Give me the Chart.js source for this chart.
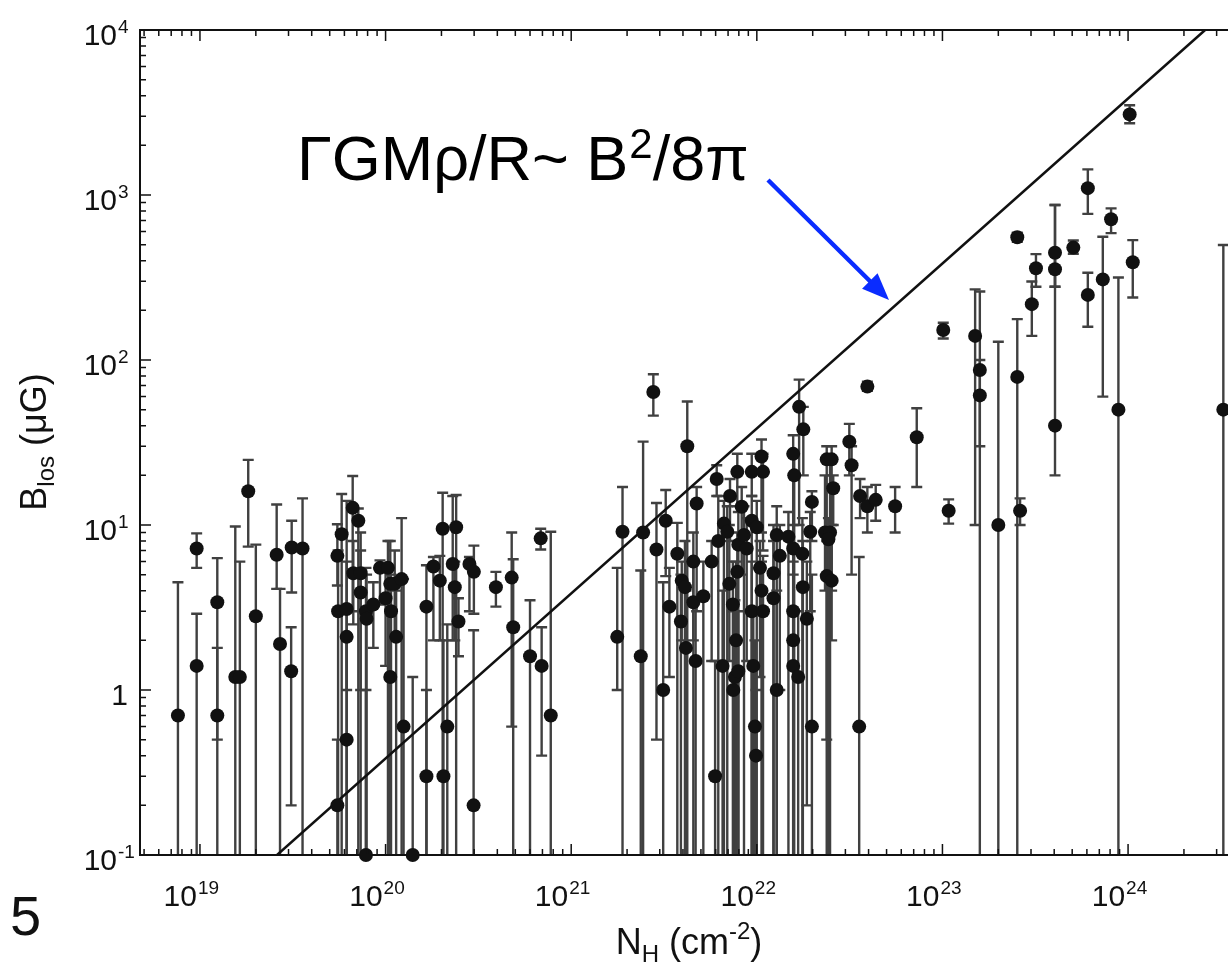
<!DOCTYPE html>
<html>
<head>
<meta charset="utf-8">
<script src="https://cdn.jsdelivr.net/npm/chart.js@4.4.1/dist/chart.umd.min.js"></script>
<style>
  html, body { margin: 0; padding: 0; background: #fff; overflow: hidden; }
  #wrap { width: 1250px; height: 964px; position: relative; }
</style>
</head>
<body>
<div id="wrap"><canvas id="chart"></canvas></div>
<script>
// Column density N_H (cm^-2) for each measurement
const nH = [
  7.61e18, 9.6e18, 9.6e18, 1.24e19, 1.24e19, 1.55e19, 1.64e19, 1.82e19, 2.0e19, 2.59e19,
  2.7e19, 3.12e19, 3.1e19, 3.57e19, 5.5e19, 5.55e19, 5.5e19, 5.8e19, 6.17e19, 6.17e19,
  6.17e19, 6.65e19, 7.13e19, 6.7e19, 7.34e19, 7.34e19, 7.84e19, 7.9e19, 7.84e19, 8.59e19,
  9.33e19, 1.03e20, 1.0e20, 1.06e20, 1.12e20, 1.22e20, 1.07e20, 1.14e20, 1.06e20, 1.25e20,
  1.4e20, 1.66e20, 1.66e20, 1.81e20, 1.96e20, 2.03e20, 2.05e20, 2.15e20, 2.3e20, 2.36e20,
  2.4e20, 2.47e20, 2.83e20, 2.99e20, 2.98e20, 3.93e20, 4.78e20, 4.87e20, 6.0e20, 6.85e20,
  6.93e20, 7.76e20, 1.77e21, 1.89e21, 2.37e21, 2.44e21, 2.77e21, 2.88e21, 3.13e21, 3.23e21,
  3.38e21, 3.73e21, 3.94e21, 4.1e21, 3.9e21, 4.15e21, 4.22e21, 4.55e21, 4.55e21, 4.74e21,
  4.68e21, 5.15e21, 5.71e21, 5.96e21, 6.08e21, 6.2e21, 6.54e21, 6.65e21, 6.93e21, 7.11e21,
  7.17e21, 7.47e21, 7.43e21, 7.62e21, 7.73e21, 7.85e21, 7.85e21, 7.95e21, 7.95e21, 8.29e21,
  8.53e21, 8.82e21, 9.39e21, 9.39e21, 9.39e21, 9.57e21, 9.77e21, 9.9e21, 9.99e21, 1.04e22,
  1.06e22, 1.06e22, 1.08e22, 1.08e22, 1.23e22, 1.23e22, 1.28e22, 1.28e22, 1.33e22, 1.48e22,
  1.57e22, 1.59e22, 1.57e22, 1.57e22, 1.57e22, 1.57e22, 1.67e22, 1.69e22, 1.78e22, 1.76e22,
  1.77e22, 1.86e22, 1.98e22, 1.94e22, 1.98e22, 2.33e22, 2.48e22, 2.38e22, 2.53e22, 2.58e22,
  2.43e22, 2.38e22, 2.53e22, 3.15e22, 3.24e22, 3.56e22, 3.6e22, 3.94e22, 3.94e22, 4.37e22,
  5.56e22, 7.27e22, 1.01e23, 1.08e23, 1.5e23, 1.59e23, 1.59e23, 2.0e23, 2.53e23, 2.53e23,
  2.62e23, 3.03e23, 3.19e23, 4.04e23, 4.04e23, 4.04e23, 5.07e23, 6.07e23, 6.07e23, 7.31e23,
  8.1e23, 8.87e23, 1.02e24, 1.06e24, 3.26e24
];

// Line-of-sight field strength B_los (microgauss)
const bLos = [
  0.7, 7.2, 1.4, 3.4, 0.7, 1.2, 1.2, 16, 2.8, 6.6,
  1.9, 7.3, 1.3, 7.2, 6.5, 3.0, 0.2, 8.8, 3.1, 2.1,
  0.5, 12.7, 10.6, 5.1, 5.1, 3.9, 3.0, 2.7, 0.1, 3.3,
  5.5, 5.5, 3.6, 4.4, 4.4, 4.7, 3.0, 2.1, 1.2, 0.6,
  0.1, 3.2, 0.3, 5.6, 4.6, 9.5, 0.3, 0.6, 5.8, 4.2,
  9.7, 2.6, 5.8, 5.2, 0.2, 4.2, 4.8, 2.4, 1.6, 8.3,
  1.4, 0.7, 2.1, 9.1, 1.6, 9.0, 64, 7.1, 1.0, 10.6,
  3.2, 6.7, 4.6, 4.2, 2.6, 1.8, 30, 6.0, 3.4, 13.5,
  1.5, 3.7, 6.0, 0.3, 19, 8.0, 1.4, 10.2, 9.1, 4.4,
  15, 1.0, 3.3, 1.2, 2.0, 21, 5.2, 1.3, 7.6, 12.9,
  8.7, 7.2, 10.6, 21, 3.0, 1.4, 0.6, 0.4, 9.7, 5.5,
  26, 4.0, 21, 3.0, 5.1, 3.6, 8.7, 1.0, 6.5, 8.5,
  27, 20, 7.2, 3.0, 2.0, 1.4, 1.2, 52, 38, 6.7,
  4.2, 2.7, 13.8, 9.1, 0.6, 9.0, 9.0, 25, 25, 16.7,
  8.2, 4.9, 4.6, 32, 23, 0.6, 15, 69, 13, 14.2,
  13, 34, 152, 12.2, 140, 87, 61, 10, 79, 555,
  12.2, 218, 360, 447, 355, 40, 480, 1100, 248, 308,
  713, 50, 3080, 391, 50
];

// Lower end of each error bar (null: the bar runs off the bottom of the axis)
const bLow = [
  null, 5.5, null, null, 0.5, null, null, 7.4, null, 4.1,
  null, 3.9, 0.2, null, 4.3, null, null, null, 1.0, null,
  null, 3.0, null, 2.5, null, 1.0, null, null, null, 1.8,
  3.3, null, 1.4, null, 2.0, null, null, null, null, null,
  null, null, null, 2.0, 2.0, null, null, null, 2.0, 2.0,
  null, 1.6, 3.0, 2.9, null, 3.2, 0.6, null, null, 7.1,
  0.4, null, 1.0, null, null, null, 46, 0.5, null, 4.9,
  1.2, null, 2.0, null, null, null, null, 2.0, null, 3.0,
  null, null, 1.5, null, 15, null, null, null, null, 1.5,
  8, null, null, null, null, 13, 2.0, null, null, 5.0,
  null, 1.5, null, 15, null, null, null, null, null, 1.2,
  9, null, 7, null, null, null, null, null, 1.0, null,
  null, null, null, null, null, null, null, 10, 20, null,
  null, 0.2, 8, 3, null, 4, null, null, 4, 10,
  null, 0.5, 2, 20, 5, null, 11, 65, 9, 10.6,
  9, 17, 135, 10.2, 10, null, 30, null, null, 520,
  10, 140, 278, 278, 278, 20, 440, 768, 159, 60,
  587, null, 2720, 239, null
];

// Upper end of each error bar
const bHigh = [
  4.5, 8.9, 2.9, 6.3, 1.8, 9.8, 6.0, 24.8, 7.6, 13.3,
  4.1, 10.6, 2.4, 14.5, 10.1, 7.0, 0.5, 15.4, 14, 6.0,
  2.0, 19.8, 12.6, 8.0, 9.0, 7.0, 5.5, 5.0, 1.0, 4.5,
  6.1, 8.0, 5.5, 8.0, 7.0, 11.0, 5.0, 4.0, 3.0, 4.7,
  1.2, 5.7, 1.0, 6.4, 6.5, 15.7, 2.0, 2.5, 15, 6.0,
  15.2, 3.6, 6.4, 7.5, 2.3, 5.2, 9.0, 6.2, 3.5, 9.5,
  2.4, 9.1, 5.5, 17, 5.3, 32, 82, 13.6, 4.5, 16.3,
  5.5, 10.3, 6.0, 8.0, 5.0, 4.0, 56, 9.0, 6.0, 17,
  3.5, 6.0, 8.0, 1.5, 23, 15, 4.0, 14, 13, 10,
  19, 3.0, 6.0, 3.5, 6.0, 27, 9.0, 3.0, 12, 17,
  13, 11, 15, 27, 6.0, 3.0, 2.0, 1.0, 14, 8,
  33, 6.0, 27, 6.5, 10, 8, 13, 4, 10, 12,
  35, 26, 10, 6, 5, 3, 3, 76, 52, 11,
  8, 6, 16, 12, 5, 20, 25, 30, 30, 20,
  11, 8, 10, 41, 30, 6.4, 19, 74, 17, 17.5,
  17, 51, 168, 14.3, 268, 260, 100, 129, 177, 590,
  14.5, 299, 438, 870, 438, 870, 530, 1430, 338, 558,
  830, 316, 3500, 533, 498
];

// Equipartition line GM rho/R ~ B^2/8pi
const lineN = [2.6e19, 2.6e24];
const lineB = [0.1, 1e4];

// Axis ranges and decade labels
const xRange = [Math.pow(10, 18.677), Math.pow(10, 24.603)];
const yRange = [0.1, 1e4];
const xDecades = [19, 20, 21, 22, 23, 24];
const yDecades = [-1, 0, 1, 2, 3, 4];

const FONT = '"Liberation Sans", Arial, Helvetica, sans-serif';
const INK = '#111';

// "10" with a raised exponent (just "1" for 10^0); anchor is the right edge of "10"
let drawPower = function (ctx, exp, baseRight, y, size) {
    const base = exp === 0 ? '1' : '10';
    const sup = exp === 0 ? '' : String(exp);
    const supSize = Math.round(size * 0.62);
    ctx.textAlign = 'right';
    ctx.textBaseline = 'alphabetic';
    ctx.font = size + 'px ' + FONT;
    ctx.fillText(base, baseRight, y);
    if (sup) {
        ctx.textAlign = 'left';
        ctx.font = supSize + 'px ' + FONT;
        ctx.fillText(sup, baseRight + 1, y - size * 0.4);
    }
};

const errorBars = {
    id: 'errorBars',
    beforeDatasetsDraw(chart) {
        const { ctx, chartArea: a, scales: { x, y } } = chart;
        ctx.save();
        ctx.beginPath();
        ctx.rect(a.left, a.top, a.right - a.left, a.bottom - a.top);
        ctx.clip();
        ctx.strokeStyle = '#404040';
        ctx.lineWidth = 2.4;
        nH.forEach((n, i) => {
            const px = x.getPixelForValue(n);
            const top = y.getPixelForValue(bHigh[i]);
            const bot = bLow[i] === null ? a.bottom + 5 : y.getPixelForValue(bLow[i]);
            ctx.beginPath();
            ctx.moveTo(px, top);
            ctx.lineTo(px, bot);
            ctx.moveTo(px - 5.5, top);
            ctx.lineTo(px + 5.5, top);
            if (bLow[i] !== null) {
                ctx.moveTo(px - 5.5, bot);
                ctx.lineTo(px + 5.5, bot);
            }
            ctx.stroke();
        });
        ctx.restore();
    }
};

const frameAndLabels = {
    id: 'frameAndLabels',
    afterDatasetsDraw(chart) {
        const { ctx, chartArea: a, scales: { x, y } } = chart;
        ctx.save();
        ctx.strokeStyle = INK;
        ctx.lineWidth = 1.5;
        ctx.beginPath();
        // inward tick marks on all four sides
        for (let e = 18; e <= 25; e++) {
            for (let m = 1; m <= 9; m++) {
                const v = m * Math.pow(10, e);
                const px = x.getPixelForValue(v);
                if (px < a.left || px > a.right) continue;
                const len = m === 1 ? 11 : 6;
                ctx.moveTo(px, a.bottom); ctx.lineTo(px, a.bottom - len);
                ctx.moveTo(px, a.top); ctx.lineTo(px, a.top + len);
            }
        }
        for (let e = -1; e <= 4; e++) {
            for (let m = 1; m <= 9; m++) {
                const v = m * Math.pow(10, e);
                const py = y.getPixelForValue(v);
                if (py < a.top - 0.5 || py > a.bottom + 0.5) continue;
                const len = m === 1 ? 11 : 6;
                ctx.moveTo(a.left, py); ctx.lineTo(a.left + len, py);
                ctx.moveTo(a.right, py); ctx.lineTo(a.right - len, py);
            }
        }
        ctx.stroke();
        ctx.lineWidth = 2;
        ctx.strokeRect(a.left, a.top, a.right - a.left, a.bottom - a.top);
        ctx.restore();
    },
    afterDraw(chart) {
        const { ctx, scales: { x, y } } = chart;
        ctx.save();
        ctx.fillStyle = INK;

        yDecades.forEach(e => {
            const py = y.getPixelForValue(Math.pow(10, e));
            drawPower(ctx, e, e === 0 ? 128 : 117, py + 15, 30);
        });
        xDecades.forEach(e => {
            const px = x.getPixelForValue(Math.pow(10, e));
            drawPower(ctx, e, px - 3, 906, 30);
        });

        // y title: B_los (μG)
        ctx.save();
        ctx.translate(46, 442);
        ctx.rotate(-Math.PI / 2);
        ctx.font = '36px ' + FONT;
        const wB = ctx.measureText('B').width;
        const wRest = ctx.measureText(' (\u03bcG)').width;
        ctx.font = '24px ' + FONT;
        const wLos = ctx.measureText('los').width;
        const lx = -(wB + wLos + wRest) / 2;
        ctx.textAlign = 'left';
        ctx.font = '36px ' + FONT;
        ctx.fillText('B', lx, 0);
        ctx.font = '24px ' + FONT;
        ctx.fillText('los', lx + wB, 8);
        ctx.font = '36px ' + FONT;
        ctx.fillText(' (\u03bcG)', lx + wB + wLos, 0);
        ctx.restore();

        // x title: N_H (cm^-2)
        ctx.font = '36px ' + FONT;
        const wN = ctx.measureText('N').width;
        const wCm = ctx.measureText(' (cm').width;
        const wClose = ctx.measureText(')').width;
        ctx.font = '24px ' + FONT;
        const wH = ctx.measureText('H').width;
        const wExp = ctx.measureText('-2').width;
        let tx = 689 - (wN + wH + wCm + wExp + wClose) / 2;
        const ty = 954;
        ctx.textAlign = 'left';
        ctx.font = '36px ' + FONT;
        ctx.fillText('N', tx, ty); tx += wN;
        ctx.font = '24px ' + FONT;
        ctx.fillText('H', tx, ty + 8); tx += wH;
        ctx.font = '36px ' + FONT;
        ctx.fillText(' (cm', tx, ty); tx += wCm;
        ctx.font = '24px ' + FONT;
        ctx.fillText('-2', tx, ty - 15); tx += wExp;
        ctx.font = '36px ' + FONT;
        ctx.fillText(')', tx, ty);

        // panel number
        ctx.font = '56px ' + FONT;
        ctx.fillText('5', 10, 935);

        // annotation and arrow
        ctx.font = '63px ' + FONT;
        ctx.fillStyle = '#000';
        let ax = 297;
        const ay = 180;
        const part1 = '\u0393GM\u03c1/R~ B';
        ctx.fillText(part1, ax, ay); ax += ctx.measureText(part1).width;
        ctx.font = '42px ' + FONT;
        ctx.fillText('2', ax + 1, ay - 22); ax += ctx.measureText('2').width + 1;
        ctx.font = '63px ' + FONT;
        ctx.fillText('/8\u03c0', ax, ay);

        const x0 = 768, y0 = 180, x1 = 889, y1 = 300;
        const ang = Math.atan2(y1 - y0, x1 - x0);
        ctx.strokeStyle = '#0a2cff';
        ctx.fillStyle = '#0a2cff';
        ctx.lineWidth = 4.5;
        ctx.beginPath();
        ctx.moveTo(x0, y0);
        ctx.lineTo(x1 - 22 * Math.cos(ang), y1 - 22 * Math.sin(ang));
        ctx.stroke();
        ctx.beginPath();
        ctx.moveTo(x1, y1);
        ctx.lineTo(x1 - 27 * Math.cos(ang) + 11 * Math.sin(ang), y1 - 27 * Math.sin(ang) - 11 * Math.cos(ang));
        ctx.lineTo(x1 - 27 * Math.cos(ang) - 11 * Math.sin(ang), y1 - 27 * Math.sin(ang) + 11 * Math.cos(ang));
        ctx.closePath();
        ctx.fill();
        ctx.restore();
    }
};

new Chart(document.getElementById('chart'), {
    type: 'scatter',
    data: {
        datasets: [{
            label: 'B_los',
            data: nH.map((n, i) => ({ x: n, y: bLos[i] })),
            pointRadius: 7,
            pointHoverRadius: 7,
            pointBackgroundColor: INK,
            pointBorderWidth: 0,
            clip: false,
            order: 1
        }, {
            type: 'line',
            label: 'equipartition',
            data: lineN.map((n, i) => ({ x: n, y: lineB[i] })),
            borderColor: INK,
            borderWidth: 2.5,
            pointRadius: 0,
            fill: false,
            order: 2
        }]
    },
    options: {
        responsive: true,
        maintainAspectRatio: false,
        animation: false,
        events: [],
        layout: { padding: { left: 140, top: 30, right: 10, bottom: 109 } },
        plugins: { legend: { display: false }, tooltip: { enabled: false } },
        scales: {
            x: { type: 'logarithmic', min: xRange[0], max: xRange[1], display: false },
            y: { type: 'logarithmic', min: yRange[0], max: yRange[1], display: false }
        }
    },
    plugins: [errorBars, frameAndLabels]
});
</script>
</body>
</html>
